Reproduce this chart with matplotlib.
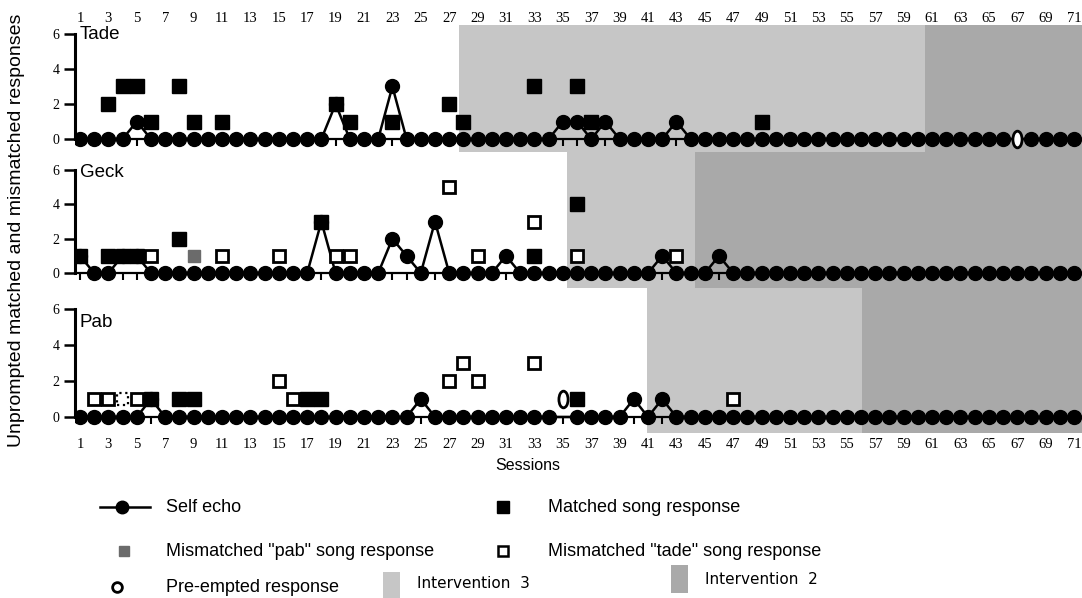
import matplotlib.pyplot as plt
import numpy as np
from matplotlib.path import Path
from matplotlib.markers import MarkerStyle
from matplotlib.transforms import Affine2D
from matplotlib.patches import Rectangle

plt.rcParams['font.family'] = ['Liberation Sans', 'DejaVu Sans']

sessions = np.arange(1, 72)
odd_sessions = sessions[::2]
panel_names = ['Tade', 'Geck', 'Pab']

# self echo (only the sessions that are not 0)
echo_s = {'Tade': [5, 19, 23, 35, 36, 38, 43],
          'Geck': [1, 4, 5, 18, 23, 24, 26, 31, 42, 46],
          'Pab': [6, 25, 40, 42]}
echo_v = {'Tade': [1, 2, 3, 1, 1, 1, 1],
          'Geck': [1, 1, 1, 3, 2, 1, 3, 1, 1, 1],
          'Pab': [1, 1, 1, 1]}

# matched song response
match_s = {'Tade': [3, 4, 5, 6, 8, 9, 11, 19, 20, 23, 27, 28, 33, 36, 37, 49],
           'Geck': [1, 3, 4, 5, 8, 18, 33, 36],
           'Pab': [6, 8, 9, 17, 18, 36]}
match_v = {'Tade': [2, 3, 3, 1, 3, 1, 1, 2, 1, 1, 2, 1, 3, 3, 1, 1],
           'Geck': [1, 1, 1, 1, 2, 3, 1, 4],
           'Pab': [1, 1, 1, 1, 1, 1]}

# mismatched "tade" song response
tade_s = {'Tade': [],
          'Geck': [6, 11, 15, 19, 20, 27, 29, 33, 36, 43],
          'Pab': [2, 3, 5, 15, 16, 27, 28, 29, 33, 47]}
tade_v = {'Tade': [],
          'Geck': [1, 1, 1, 1, 1, 5, 1, 3, 1, 1],
          'Pab': [1, 1, 1, 2, 1, 2, 3, 2, 3, 1]}
tade_dotted_s = {'Tade': [], 'Geck': [], 'Pab': [4]}
tade_dotted_v = {'Tade': [], 'Geck': [], 'Pab': [1]}

# mismatched "pab" song response
pab_s = {'Tade': [], 'Geck': [9], 'Pab': []}
pab_v = {'Tade': [], 'Geck': [1], 'Pab': []}

# pre-empted response
pre_s = {'Tade': [67], 'Geck': [], 'Pab': [35]}
pre_v = {'Tade': [0], 'Geck': [], 'Pab': [1]}

# intervention phases: start of intervention 3, start of intervention 2
int3_start = {'Tade': 27.7, 'Geck': 35.3, 'Pab': 40.9}
int2_start = {'Tade': 60.5, 'Geck': 44.3, 'Pab': 56.1}

light = '#c6c6c6'
dark = '#a9a9a9'
pab_gray = '#6b6b6b'

W, H = 1082, 598
fig = plt.figure(figsize=(W / 100, H / 100), dpi=100)

ax_px = {'Tade': (25, 152), 'Geck': (152, 288), 'Pab': (288, 433)}
ylims = {'Tade': (-0.74, 6.51), 'Geck': (-0.87, 7.05), 'Pab': (-0.89, 7.17)}
name_y = {'Tade': 5.95, 'Geck': 5.85, 'Pab': 5.25}
left_px = 75

ellipse = MarkerStyle(Affine2D().scale(0.55, 1.0).transform_path(Path.unit_circle()))

for name in panel_names:
    top, bot = ax_px[name]
    ax = fig.add_axes([left_px / W, 1 - bot / H, (W - left_px) / W, (bot - top) / H])
    ax.set_facecolor('none')
    ax.axvspan(int3_start[name], int2_start[name], color=light, lw=0, zorder=0)
    ax.axvspan(int2_start[name], 75, color=dark, lw=0, zorder=0)

    echo = np.zeros(len(sessions))
    echo[np.array(echo_s[name], dtype=int) - 1] = echo_v[name]
    filled = ~np.isin(sessions, pre_s[name]) | (echo > 0)
    ax.plot(sessions, echo, '-', color='k', lw=1.8, zorder=3)
    ax.plot(sessions[filled], echo[filled], 'o', ms=10, color='k', ls='none', zorder=3)

    ax.plot(match_s[name], match_v[name], 's', ms=9.5, color='k', ls='none', zorder=4)
    ax.plot(tade_s[name], tade_v[name], 's', ms=8.5, mfc='white', mec='k', mew=2,
            ls='none', zorder=4)
    ax.scatter(tade_dotted_s[name], tade_dotted_v[name], marker='s', s=72,
               facecolors='white', edgecolors='k', linewidths=1.6, linestyles=':', zorder=4)
    ax.plot(pab_s[name], pab_v[name], 's', ms=9, color=pab_gray, ls='none', zorder=4)
    ax.plot(pre_s[name], pre_v[name], marker=ellipse, ms=12, mfc='white', mec='k', mew=2,
            ls='none', zorder=5)

    ax.set_xlim(0.65, 71.56)
    ax.set_ylim(*ylims[name])
    for side in ['top', 'right']:
        ax.spines[side].set_visible(False)
    ax.spines['left'].set_bounds(0, 6)
    ax.spines['left'].set_linewidth(2.2)
    ax.spines['bottom'].set_position(('data', 0))
    ax.spines['bottom'].set_linewidth(1.6)

    ax.set_yticks([0, 2, 4, 6], labels=['0', '2', '4', '6'],
                  fontfamily='Liberation Serif', fontsize=10)
    ax.tick_params(axis='y', length=8, width=1.8, pad=3)

    if name == 'Pab':
        labels = [str(s) if s % 2 == 1 else '' for s in sessions]
        ax.set_xticks(sessions, labels=labels, fontfamily='Liberation Serif', fontsize=10.5)
        ax.tick_params(axis='x', direction='out', length=5, width=1.5, pad=10)
    else:
        ax.set_xticks(sessions)
        ax.tick_params(axis='x', direction='out', length=5, width=1.5, labelbottom=False)

    if name == 'Tade':
        sec = ax.secondary_xaxis('top')
        sec.set_xticks(odd_sessions, labels=[str(s) for s in odd_sessions],
                       fontfamily='Liberation Serif', fontsize=10.5)
        sec.tick_params(length=0, pad=0)
        sec.spines['top'].set_visible(False)

    ax.text(1.0, name_y[name], name, fontsize=13.5, ha='left', va='center', zorder=6)

fig.text(17 / W, 1 - 230 / H, 'Unprompted matched and mismatched responses',
         rotation=90, ha='center', va='center', fontsize=14)
fig.text(528 / W, 1 - 466 / H, 'Sessions', ha='center', va='center', fontsize=11.5)

# legend drawn in pixel coordinates
lax = fig.add_axes([0, 0, 1, (H - 470) / H])
lax.set_xlim(0, W)
lax.set_ylim(H, 470)
lax.axis('off')

r1, r2, r3 = 507, 551, 587
lax.plot([100, 150], [r1, r1], '-', color='k', lw=1.8)
lax.plot([122], [r1], 'o', ms=9, color='k')
lax.text(166, r1, 'Self echo', fontsize=13, va='center')
lax.plot([503], [r1], 's', ms=9, color='k')
lax.text(548, r1, 'Matched song response', fontsize=13, va='center')

lax.plot([124], [r2], 's', ms=7, color=pab_gray)
lax.text(166, r2, 'Mismatched "pab" song response', fontsize=13, va='center')
lax.plot([503], [r2], 's', ms=7, mfc='white', mec='k', mew=1.8)
lax.text(548, r2, 'Mismatched "tade" song response', fontsize=13, va='center')

lax.plot([117], [r3], 'o', ms=7, mfc='white', mec='k', mew=2)
lax.text(166, r3, 'Pre-empted response', fontsize=13, va='center')
lax.add_patch(Rectangle((383, r3 - 15), 17, 28, color=light, lw=0))
lax.text(417, r3 - 4, 'Intervention  3', fontsize=11, va='center', family='DejaVu Sans')
lax.add_patch(Rectangle((671, r3 - 22), 17, 28, color=dark, lw=0))
lax.text(705, r3 - 8, 'Intervention  2', fontsize=11, va='center', family='DejaVu Sans')

fig.savefig('out.png', dpi=100)
